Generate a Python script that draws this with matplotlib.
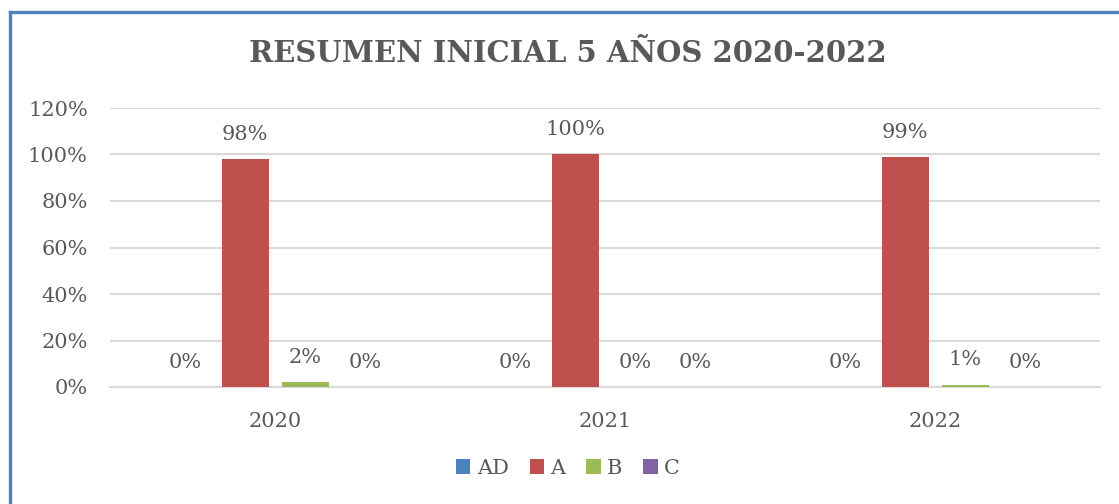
import matplotlib.pyplot as plt
import numpy as np
from matplotlib.lines import Line2D

# data
years = ['2020', '2021', '2022']
levels = ['AD', 'A', 'B', 'C']
val_AD = [0, 0, 0]
val_A = [98, 100, 99]
val_B = [2, 0, 1]
val_C = [0, 0, 0]
colors = ['#4F81BD', '#C0504D', '#9BBB59', '#8064A2']
txt = '#595959'

plt.rcParams['font.family'] = ['DejaVu Serif']

fig = plt.figure(figsize=(11.19, 5.04), dpi=100)
ax = fig.add_axes([110/1119, 1-387/504, 990/1119, 279/504])

x = np.arange(len(years))
slot = 60/330
bw = 47/330
series = [val_AD, val_A, val_B, val_C]
for i, vals in enumerate(series):
    pos = x + (i - 1.5) * slot
    bars = ax.bar(pos, vals, width=bw, color=colors[i], label=levels[i], zorder=3)
    for b, v in zip(bars, vals):
        ax.annotate('%d%%' % v, (b.get_x() + b.get_width()/2, v), xytext=(0, 11),
                    textcoords='offset points', ha='center', va='bottom',
                    fontsize=15, color=txt)

ax.set_xlim(-0.5, 2.5)
ax.set_ylim(0, 120)
ax.set_yticks(range(0, 121, 20))
ax.set_yticklabels(['%d%%' % t for t in range(0, 121, 20)])
ax.set_xticks(x)
ax.set_xticklabels(years)
ax.tick_params(axis='both', length=0, labelsize=15, colors=txt)
ax.tick_params(axis='y', pad=16)
ax.tick_params(axis='x', pad=18)
ax.grid(axis='y', color='#D9D9D9', linewidth=1.5, zorder=0)
for s in ['top', 'right', 'left']:
    ax.spines[s].set_visible(False)
ax.spines['bottom'].set_color('#D9D9D9')
ax.spines['bottom'].set_linewidth(1.5)

fig.text(568/1119, 1-53/504, 'RESUMEN INICIAL 5 AÑOS 2020-2022', ha='center', va='center',
         fontsize=21, fontweight='bold', color=txt)

fig.legend(loc='center', bbox_to_anchor=(568/1119, 1-468/504), ncol=4, frameon=False,
           fontsize=15, labelcolor=txt, handlelength=0.7, handleheight=0.7,
           handletextpad=0.3, columnspacing=1.0)

# blue frame (left and top only)
bc = '#4F81BD'
fig.add_artist(Line2D([9.5/1119, 9.5/1119], [0, 1-11.5/504], color=bc, linewidth=2.4, transform=fig.transFigure))
fig.add_artist(Line2D([9.5/1119, 1], [1-11.5/504, 1-11.5/504], color=bc, linewidth=2.4, transform=fig.transFigure))

fig.savefig('out.png', dpi=100)
